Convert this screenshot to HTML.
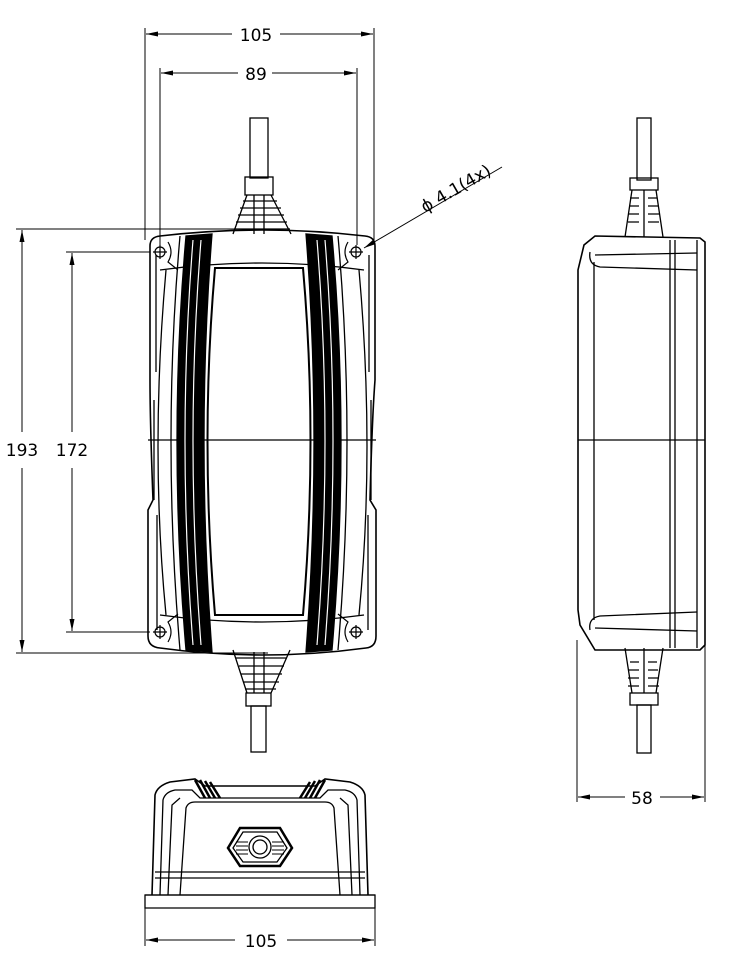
<!DOCTYPE html>
<html><head><meta charset="utf-8"><style>
html,body{margin:0;padding:0;background:#fff;}
svg{display:block;}
text{font-family:"DejaVu Sans","Liberation Sans",sans-serif;font-size:17px;fill:#000;}
</style></head><body>
<svg width="730" height="960" viewBox="0 0 730 960" xmlns="http://www.w3.org/2000/svg">
<defs>
<marker id="a" viewBox="0 0 12 6" refX="12" refY="3" markerWidth="12" markerHeight="6" orient="auto-start-reverse" markerUnits="userSpaceOnUse"><path d="M0,0.5 L12,3 L0,5.5z" fill="#000"/></marker>
</defs>
<g fill="none" stroke="#000" stroke-width="1">
<line x1="145" y1="28" x2="145" y2="240"/><line x1="374" y1="28" x2="374" y2="240"/>
<line x1="146" y1="34" x2="232" y2="34" marker-start="url(#a)"/><line x1="280" y1="34" x2="373" y2="34" marker-end="url(#a)"/>
<line x1="160" y1="68" x2="160" y2="245"/><line x1="357" y1="68" x2="357" y2="245"/>
<line x1="161" y1="73" x2="238" y2="73" marker-start="url(#a)"/><line x1="272" y1="73" x2="356" y2="73" marker-end="url(#a)"/>
<line x1="16" y1="229" x2="272" y2="229"/><line x1="16" y1="653" x2="268" y2="653"/>
<line x1="22" y1="230" x2="22" y2="432" marker-start="url(#a)"/><line x1="22" y1="468" x2="22" y2="652" marker-end="url(#a)"/>
<line x1="66" y1="252" x2="150" y2="252"/><line x1="66" y1="632" x2="150" y2="632"/>
<line x1="72" y1="253" x2="72" y2="432" marker-start="url(#a)"/><line x1="72" y1="468" x2="72" y2="631" marker-end="url(#a)"/>
<line x1="502" y1="167" x2="364" y2="248" marker-end="url(#a)"/>

<g stroke-width="1.3">
<rect x="250" y="118" width="18" height="60"/>
<rect x="245" y="177" width="28" height="18"/>
<path d="M247,195 L233,234 M271,195 L291,234"/>
<path d="M243,201H277 M240,208H281 M238,215H284 M236,222H287 M234,229H290 M254,195V234 M264,195V234"/>
<rect x="251" y="706" width="15" height="46"/>
<rect x="246" y="693" width="25" height="13"/>
<path d="M233,650 L247,693 M290,650 L271,693 M236,658H287 M239,666H284 M241,674H282 M243,682H279 M245,689H276 M254,652V693 M264,652V693"/>
<path d="M150,246 Q150,237 160,236 Q262,224 365,236 Q375,237 375,246 L375,380 Q372,420 370,500 L376,510 L376,636 Q376,647 366,648 Q262,662 160,648 Q148,647 148,636 L148,510 L153,500 Q150,420 150,380 Z" stroke-width="1.6"/>
<path d="M156,255 L156,372 M154,400 L154,500 M157,515 L157,630 M369,255 L369,372 M371,400 L371,500 M368,515 L368,630"/>
<path d="M166,270 Q150,450 166,615 M359,270 Q375,450 359,615"/>
<path d="M160,270 Q262,256 364,270 M160,615 Q262,629 364,615"/>
<line x1="148" y1="440" x2="376" y2="440"/>
<path d="M215,268 L303,268 Q318,440 303,615 L215,615 Q200,440 215,268 Z" stroke-width="2"/>
<path d="M186,236 Q168,440 186,650 L212,652 Q196,440 212,234 Z" fill="#000"/>
<path d="M332,236 Q350,440 332,650 L306,652 Q322,440 306,234 Z" fill="#000"/>
<path d="M180,236 Q162,440 180,650 M338,236 Q356,440 338,650"/>
<path d="M193,240 Q177,440 193,645 M325,240 Q341,440 325,645" stroke="#fff" stroke-width="1.2"/>
<path d="M201,240 Q185,440 201,645 M317,240 Q333,440 317,645" stroke="#fff" stroke-width="1.2"/>
<g stroke-width="1.2">
<circle cx="160" cy="252" r="5"/><path d="M153,252H167M160,245V259"/>
<circle cx="356" cy="252" r="5"/><path d="M349,252H363M356,245V259"/>
<circle cx="160" cy="632" r="5"/><path d="M153,632H167M160,625V639"/>
<circle cx="356" cy="632" r="5"/><path d="M349,632H363M356,625V639"/>
<path d="M168,242 Q174,252 168,262 L178,270 M348,242 Q342,252 348,262 L338,270 M168,642 Q174,632 168,622 L178,614 M348,642 Q342,632 348,622 L338,614"/>
</g>
</g>

<g stroke-width="1.3">
<rect x="637" y="118" width="14" height="62"/>
<rect x="630" y="178" width="28" height="12"/>
<path d="M632,190 L625,237 M656,190 L663,237 M644,190V237"/>
<path d="M630,198h9M648,198h9M629,206h10M648,206h10M628,214h11M648,214h11M628,222h11M648,222h11"/>
<rect x="637" y="705" width="14" height="48"/>
<rect x="630" y="693" width="28" height="12"/>
<path d="M625,648 L632,693 M663,648 L656,693 M644,648V693"/>
<path d="M630,662h9M648,662h9M629,670h10M648,670h10M628,678h11M648,678h11M628,686h11M648,686h11"/>
<path d="M595,236 L700,238 L705,242 L705,645 L700,650 L595,650 L580,625 L578,610 L578,270 L584,245 Z" stroke-width="1.6"/>
<path d="M590,252 Q588,265 600,267 L697,270 M595,255 L697,253 M590,630 Q588,618 600,616 L697,612 M595,628 L697,631"/>
<path d="M594,262 L594,620 M670,240 V648 M675,240 V648 M697,240 V648"/>
<line x1="578" y1="440" x2="705" y2="440"/>
</g>
<line x1="577" y1="640" x2="577" y2="802"/><line x1="705" y1="640" x2="705" y2="802"/>
<line x1="578" y1="797" x2="625" y2="797" marker-start="url(#a)"/><line x1="660" y1="797" x2="704" y2="797" marker-end="url(#a)"/>

<g stroke-width="1.3">
<path d="M145,895 L145,908 L375,908 L375,895 Z"/>
<path d="M152,895 L155,795 Q157,786 170,782 L195,779 L205,786 L315,786 L325,779 L350,782 Q363,786 365,795 L368,895" stroke-width="1.6"/>
<path d="M160,895 L163,800 Q165,792 175,790 L192,790 L200,798 L320,798 L328,790 L345,790 Q355,792 357,800 L360,895"/>
<path d="M168,895 L172,805 L180,798 M352,895 L348,805 L340,798 M180,895 L186,808 Q188,802 195,802 L325,802 Q332,802 334,808 L340,895"/>
<path d="M155,872 H365 M155,878 H365 M145,895 H375"/>
<path d="M195,780 L205,798 M200,780 L210,798 M205,781 L215,798 M210,782 L220,798 M310,782 L300,798 M315,781 L305,798 M320,780 L310,798 M325,780 L315,798" stroke-width="2.5"/>
<path d="M240,828 L280,828 L292,848 L280,866 L240,866 L228,848 Z" stroke-width="2.5"/>
<path d="M243,832 L277,832 L287,848 L277,862 L243,862 L233,848 Z"/>
<circle cx="260" cy="847" r="11" fill="#fff"/><circle cx="260" cy="847" r="7"/>
<path d="M236,842h12M236,846h12M236,850h12M236,854h12M272,842h12M272,846h12M272,850h12M272,854h12" stroke-width="1"/>
</g>
<line x1="145" y1="905" x2="145" y2="946"/><line x1="375" y1="905" x2="375" y2="946"/>
<line x1="146" y1="940" x2="235" y2="940" marker-start="url(#a)"/><line x1="287" y1="940" x2="374" y2="940" marker-end="url(#a)"/>
</g>
<text x="256" y="41" text-anchor="middle">105</text>
<text x="256" y="80" text-anchor="middle">89</text>
<text x="22" y="456" text-anchor="middle">193</text>
<text x="72" y="456" text-anchor="middle">172</text>
<text x="642" y="804" text-anchor="middle">58</text>
<text x="261" y="947" text-anchor="middle">105</text>
<text x="425" y="213" transform="rotate(-30 425 213)">ϕ 4.1(4x)</text>
</svg>
</body></html>
